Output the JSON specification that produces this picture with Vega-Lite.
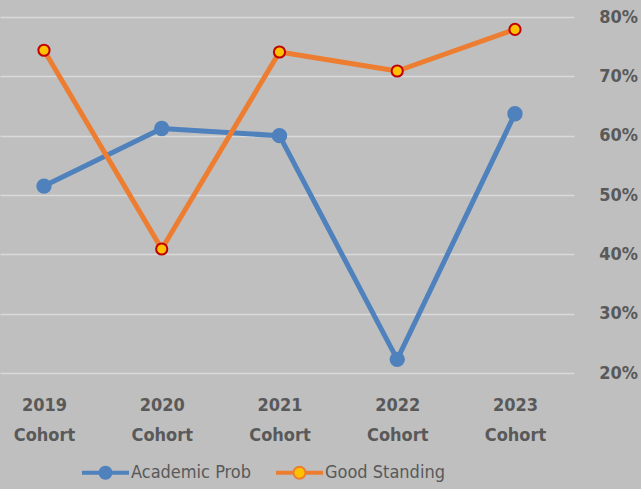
{
  "$schema": "https://vega.github.io/schema/vega-lite/v6.json",
  "width": 574,
  "height": 356,
  "autosize": {"type": "none"},
  "padding": {"left": 0, "top": 17, "right": 67, "bottom": 116},
  "background": "#BFBFBF",
  "config": {
    "view": {"stroke": null},
    "font": "DejaVu Sans Condensed, sans-serif"
  },
  "data": {
    "values": [
      {"cohort": "2019 Cohort", "series": "Academic Prob", "value": 0.515},
      {"cohort": "2020 Cohort", "series": "Academic Prob", "value": 0.612},
      {"cohort": "2021 Cohort", "series": "Academic Prob", "value": 0.600},
      {"cohort": "2022 Cohort", "series": "Academic Prob", "value": 0.223},
      {"cohort": "2023 Cohort", "series": "Academic Prob", "value": 0.637},
      {"cohort": "2019 Cohort", "series": "Good Standing", "value": 0.744},
      {"cohort": "2020 Cohort", "series": "Good Standing", "value": 0.409},
      {"cohort": "2021 Cohort", "series": "Good Standing", "value": 0.741},
      {"cohort": "2022 Cohort", "series": "Good Standing", "value": 0.709},
      {"cohort": "2023 Cohort", "series": "Good Standing", "value": 0.779}
    ]
  },
  "encoding": {
    "x": {
      "field": "cohort", "type": "nominal", "sort": null,
      "scale": {"type": "point", "padding": 0.4374, "align": 0.427},
      "axis": {
        "orient": "bottom", "domain": false, "ticks": false, "grid": false,
        "labelExpr": "split(datum.label, ' ')",
        "labelFontWeight": "bold", "labelFontSize": 18, "labelColor": "#595959",
        "labelLineHeight": 30, "labelPadding": 23, "labelAngle": 0, "title": null
      }
    },
    "y": {
      "field": "value", "type": "quantitative",
      "scale": {"domain": [0.2, 0.8], "nice": false, "zero": false},
      "axis": {
        "orient": "right", "values": [0.2, 0.3, 0.4, 0.5, 0.6, 0.7, 0.8],
        "format": ".0%", "domain": false, "ticks": false, "grid": true,
        "gridColor": "#D9D9D9", "gridWidth": 1.5, "labelFlush": false,
        "labelFontWeight": "bold", "labelFontSize": 18, "labelColor": "#595959",
        "labelPadding": 44, "labelAlign": "center", "title": null
      }
    }
  },
  "layer": [
    {
      "mark": {"type": "line", "strokeWidth": 5, "strokeJoin": "round", "strokeCap": "round"},
      "encoding": {
        "color": {
          "field": "series", "type": "nominal",
          "scale": {"range": ["#4F81BD", "#ED7D31"]},
          "legend": {
            "orient": "none", "legendX": 82, "legendY": 432, "direction": "horizontal",
            "title": null, "padding": 0,
            "symbolType": "M-1,-0.0444H-0.27V0.0444H-1Z M0.27,-0.0444H1V0.0444H0.27Z M-0.267,0A0.267,0.267,0,1,1,0.267,0A0.267,0.267,0,1,1,-0.267,0Z",
            "symbolSize": 2025, "symbolStrokeWidth": 2, "labelOffset": 2, "columnPadding": 21,
            "labelFontSize": 18, "labelColor": "#595959",
            "encode": {
              "symbols": {
                "update": {
                  "fill": {"signal": "datum.value === 'Good Standing' ? '#FFC000' : '#4F81BD'"},
                  "stroke": {"signal": "datum.value === 'Good Standing' ? '#ED7D31' : '#4F81BD'"},
                  "strokeWidth": {"value": 2},
                  "opacity": {"value": 1}
                }
              }
            }
          }
        }
      }
    },
    {
      "mark": {"type": "point", "filled": true, "strokeWidth": 2, "opacity": 1},
      "encoding": {
        "fill": {
          "field": "series", "type": "nominal",
          "scale": {"range": ["#4F81BD", "#FFC000"]},
          "legend": null
        },
        "stroke": {
          "field": "series", "type": "nominal",
          "scale": {"range": ["#4F81BD", "#C00000"]},
          "legend": null
        },
        "size": {
          "field": "series", "type": "ordinal",
          "scale": {"range": [180, 125]},
          "legend": null
        }
      }
    }
  ]
}
